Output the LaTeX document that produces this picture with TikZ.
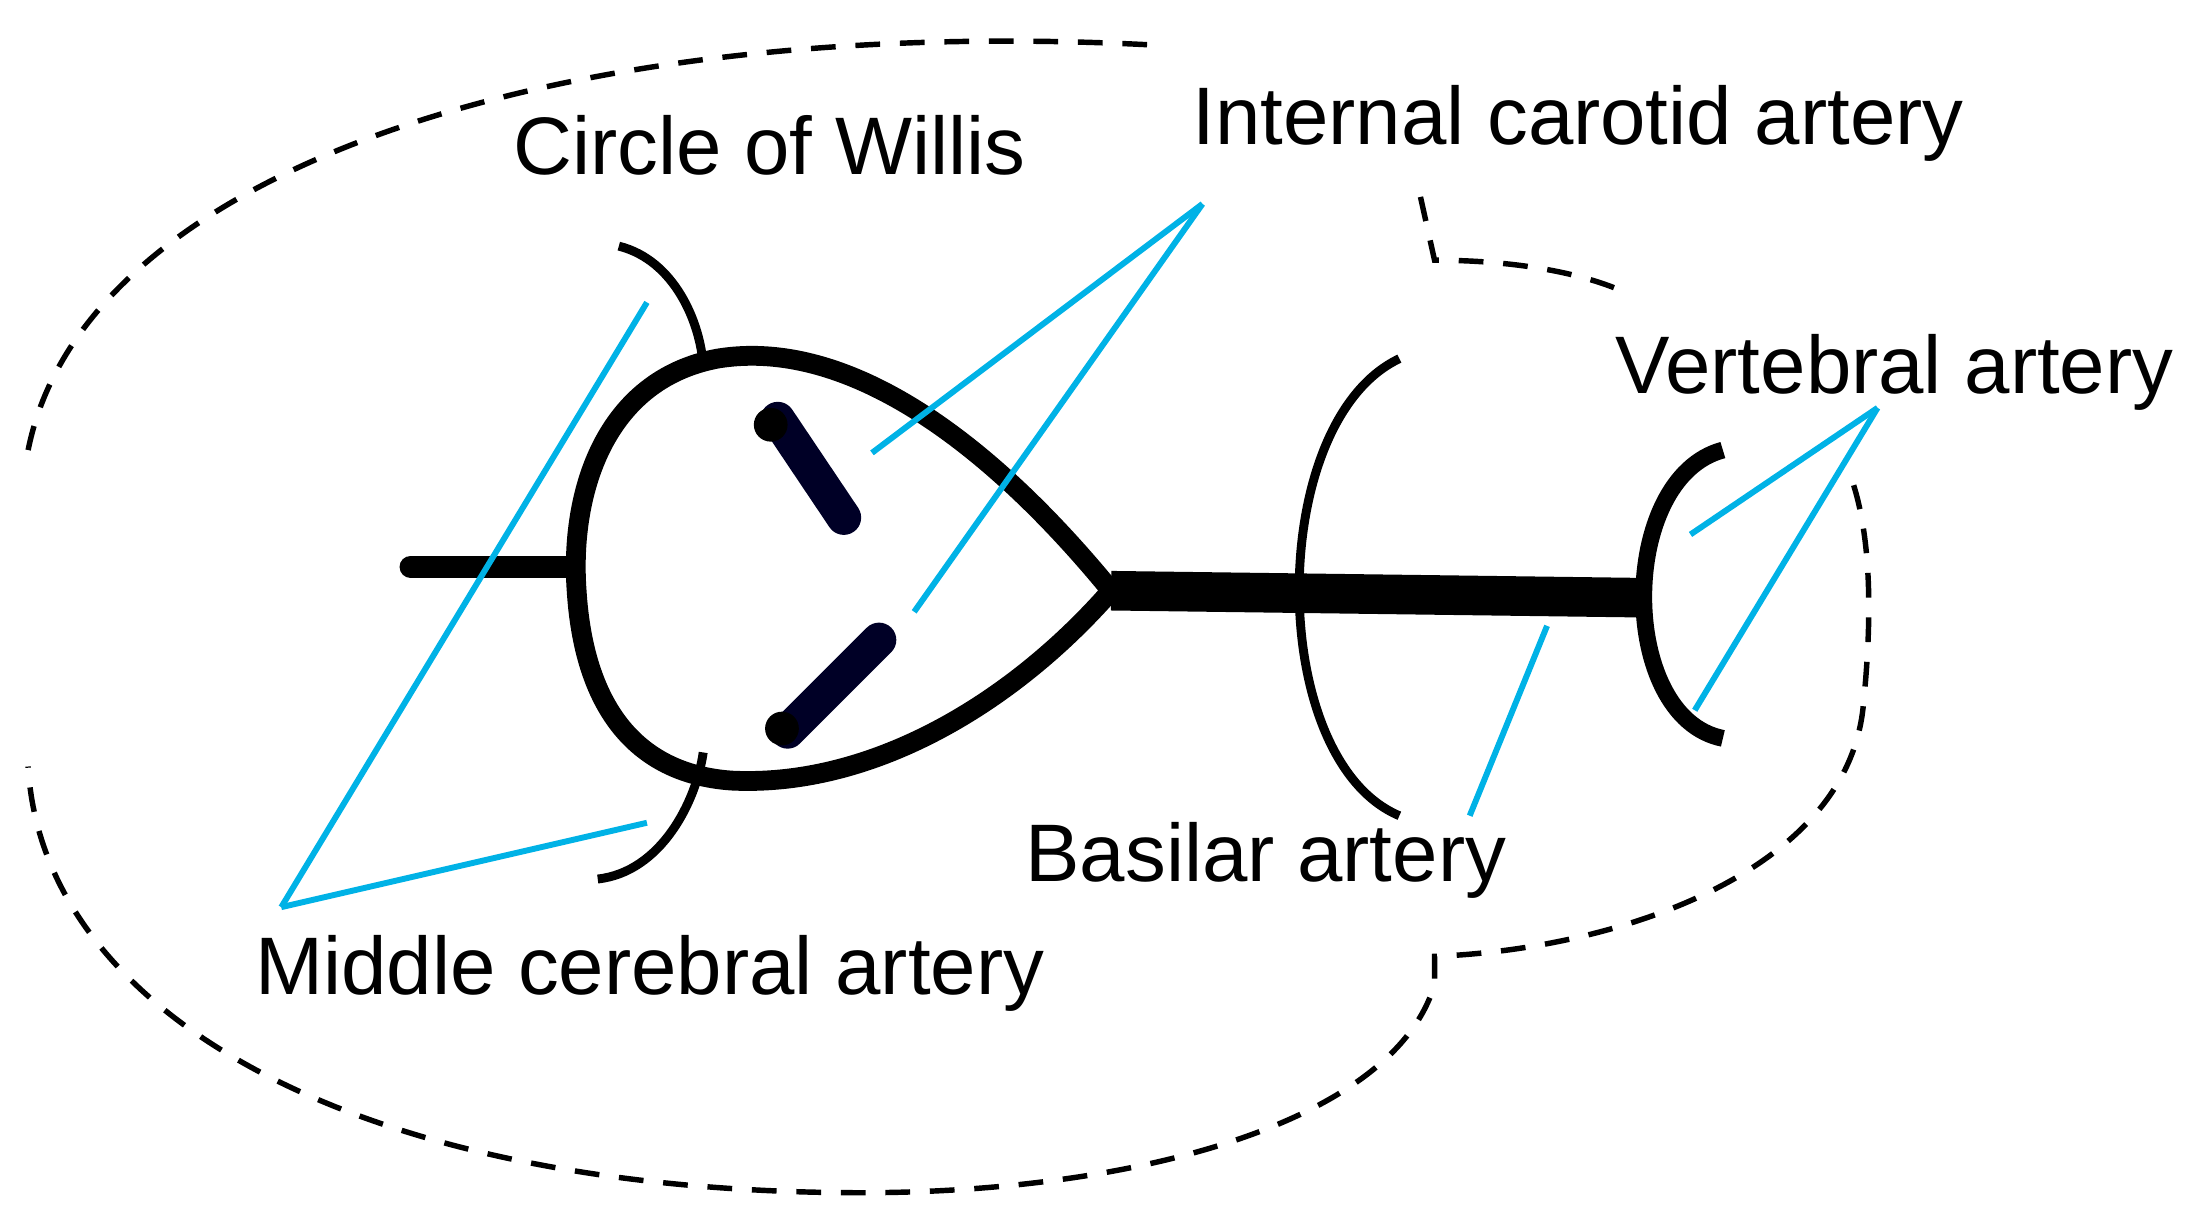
\documentclass[tikz,border=0pt]{standalone}
\usepackage{fontspec}
\setmainfont{Liberation Sans}
\begin{document}
\begin{tikzpicture}[x=0.01cm,y=-0.01cm,
        every node/.style = {font=\fontsize{16.5}{19}\selectfont},
        vessel/.style = {line width=4pt, line cap=round},
        outline/.style = {line width=1.1pt, dash pattern=on 5pt off 4pt},
        pointer/.style = {color={rgb,255:red,0;green,178;blue,230}, line width=1.2pt}]
    \useasboundingbox (0,0) rectangle (1560,866);
    % head outline
    \draw[outline] (20,320) .. controls (60,120) and (400,10) .. (820,32);
    \draw[outline] (1010,140) -- (1020,185) .. controls (1080,185) and (1130,195) .. (1160,210);
    \draw[outline] (1318,345) .. controls (1332,390) and (1330,450) .. (1325,500)
        .. controls (1315,620) and (1150,675) .. (1020,680) -- (1020,700)
        .. controls (990,800) and (800,850) .. (600,848)
        .. controls (250,845) and (30,720) .. (20,545);
    % circle of Willis
    \coordinate (tip) at (790,420);
    \draw[vessel] (tip) .. controls (700,310) and (600,240) .. (510,255)
        .. controls (430,270) and (405,350) .. (410,420)
        .. controls (415,500) and (450,550) .. (520,555)
        .. controls (620,560) and (720,500) .. (tip);
    \draw[line width=8pt] (tip) -- (1170,425);
    \draw[line width=4.5pt, line cap=round] (292,403) -- (403,403);
    \draw[line width=7pt, line cap=round, black!85!blue] (553,298) -- (600,368);
    \draw[line width=7pt, line cap=round, black!85!blue] (560,520) -- (625,455);
    \fill (548,302) circle (12);
    \fill (556,518) circle (12);
    % branches
    \draw[line width=1.8pt] (440,175) .. controls (480,185) and (498,230) .. (500,260);
    \draw[line width=1.8pt] (425,625) .. controls (470,620) and (495,570) .. (500,535);
    \draw[line width=1.8pt] (995,255) .. controls (900,300) and (900,540) .. (995,580);
    \draw[line width=3.4pt] (1225,320) .. controls (1150,340) and (1150,510) .. (1225,525);
    % labels
    \node (cow) at (547,103) {Circle of Willis};
    \node (ica) at (1122,88) {Internal carotid artery};
    \node (va) at (1347,265) {Vertebral artery};
    \node (ba) at (900,612) {Basilar artery};
    \node (mca) at (462,692) {Middle cerebral artery};
    % pointers
    \coordinate (mcap) at (200,645);
    \coordinate (icap) at (855,145);
    \coordinate (vap) at (1335,290);
    \draw[pointer] (mcap) -- (460,215);
    \draw[pointer] (mcap) -- (460,585);
    \draw[pointer] (icap) -- (620,322);
    \draw[pointer] (icap) -- (650,435);
    \draw[pointer] (1045,580) -- (1100,445);
    \draw[pointer] (vap) -- (1202,380);
    \draw[pointer] (vap) -- (1205,505);
\end{tikzpicture}
\end{document}
